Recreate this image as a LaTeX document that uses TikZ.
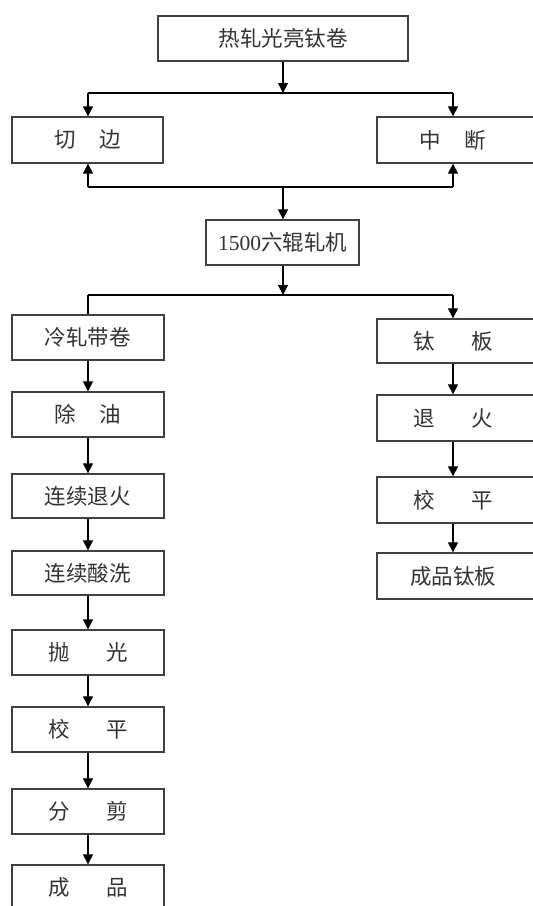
\documentclass[tikz,border=0pt]{standalone}
\usepackage{fontspec}
\setmainfont{Liberation Serif}
\newfontfamily\cjk{Noto Sans CJK SC}
\usetikzlibrary{arrows.meta}
\tikzset{
  boxs/.style={draw=black!75, line width=1.3pt, fill=white, inner sep=0pt, text=black!80, font=\cjk\fontsize{21.5}{24}\selectfont},
  arr/.style={line width=1.1pt, -{Triangle[length=10pt,width=10pt]}},
  ln/.style={line width=1.1pt},
}
\newcommand{\gapA}{\hspace{24pt}}
\newcommand{\gapB}{\hspace{37pt}}
\begin{document}
\begin{tikzpicture}[x=1pt,y=-1pt]
\useasboundingbox (0,0) rectangle (533,906);
% coordinates of columns
\coordinate (L) at (88,0);
\coordinate (R) at (453,0);
\coordinate (C) at (283,0);
% nodes
\node[boxs, minimum width=250, minimum height=45] (top) at (283,38.5) {热轧光亮钛卷};
\node[boxs, minimum width=151, minimum height=46] (qb) at (87.5,140) {切\gapA 边};
\node[boxs, minimum width=168, minimum height=46] (zd) at (461,140) {\hspace*{-16pt}中\gapA 断};
\node[boxs, minimum width=153, minimum height=45] (mill) at (282.5,242.5) {{\fontspec{Liberation Serif}1500}六辊轧机};
\node[boxs, minimum width=152, minimum height=45] (lz) at (88,337.5) {冷轧带卷};
\node[boxs, minimum width=168, minimum height=44] (tb) at (461,341) {\hspace*{-16pt}钛\gapB 板};
\node[boxs, minimum width=152, minimum height=45] (cy) at (88,414.5) {除\gapA 油};
\node[boxs, minimum width=152, minimum height=44] (lxth) at (88,496) {连续退火};
\node[boxs, minimum width=152, minimum height=44] (lxsx) at (88,573) {连续酸洗};
\node[boxs, minimum width=152, minimum height=45] (pg) at (88,652.5) {抛\gapB 光};
\node[boxs, minimum width=152, minimum height=45] (jp) at (88,729.5) {校\gapB 平};
\node[boxs, minimum width=152, minimum height=45] (fj) at (88,811.5) {分\gapB 剪};
\node[boxs, minimum width=152, minimum height=45] (cp) at (88,887.5) {成\gapB 品};
\node[boxs, minimum width=168, minimum height=46] (th) at (461,418) {\hspace*{-16pt}退\gapB 火};
\node[boxs, minimum width=168, minimum height=46] (jp2) at (461,500) {\hspace*{-16pt}校\gapB 平};
\node[boxs, minimum width=168, minimum height=46] (cptb) at (461,576) {\hspace*{-16pt}成品钛板};
% junction coordinates
\coordinate (j1) at (283,93);
\coordinate (j2) at (283,187);
\coordinate (j3) at (283,295);
% top split
\draw[arr] (top.south) -- (j1);
\draw[ln] (j1 -| L) -- (j1 -| R);
\draw[arr] (j1 -| L) -- (qb.north -| L);
\draw[arr] (j1 -| R) -- (zd.north -| R);
% merge
\draw[ln] (j2 -| L) -- (j2 -| R);
\draw[arr] (j2 -| L) -- (qb.south -| L);
\draw[arr] (j2 -| R) -- (zd.south -| R);
\draw[arr] (j2) -- (j2 |- mill.north);
% mill split
\draw[arr] (mill.south -| j3) -- (j3);
\draw[ln] (j3 -| L) -- (j3 -| R);
\draw[ln] (j3 -| L) -- (lz.north -| L);
\draw[arr] (j3 -| R) -- (tb.north -| R);
% left column
\draw[arr] (lz.south) -- (cy.north);
\draw[arr] (cy.south) -- (lxth.north);
\draw[arr] (lxth.south) -- (lxsx.north);
\draw[arr] (lxsx.south) -- (pg.north);
\draw[arr] (pg.south) -- (jp.north);
\draw[arr] (jp.south) -- (fj.north);
\draw[arr] (fj.south) -- (cp.north);
% right column
\draw[arr] (tb.south -| R) -- (th.north -| R);
\draw[arr] (th.south -| R) -- (jp2.north -| R);
\draw[arr] (jp2.south -| R) -- (cptb.north -| R);
\end{tikzpicture}
\end{document}
